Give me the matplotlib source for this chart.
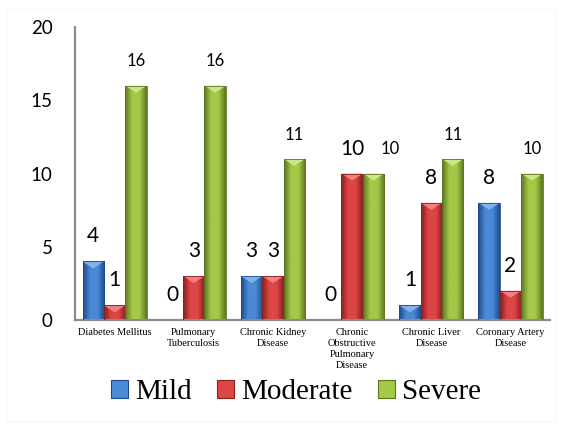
import numpy as np
import matplotlib
matplotlib.use('Agg')
import matplotlib.pyplot as plt
from matplotlib.colors import LinearSegmentedColormap
from matplotlib.patches import Rectangle, Polygon, Patch

categories = ['Diabetes Mellitus', 'Pulmonary\nTuberculosis', 'Chronic Kidney\nDisease',
              'Chronic\nObstructive\nPulmonary\nDisease', 'Chronic Liver\nDisease',
              'Coronary Artery\nDisease']
series = ['Mild', 'Moderate', 'Severe']
mild = [4, 0, 3, 0, 1, 8]
moderate = [1, 3, 3, 10, 8, 2]
severe = [16, 16, 11, 10, 11, 10]
yticks = [0, 5, 10, 15, 20]

# edge, centre, top-bevel colours per series
palette = {
    'Mild': ('#1d4b8a', '#4a8ad6', '#7fb2ec'),
    'Moderate': ('#8a1e1e', '#de4646', '#f28080'),
    'Severe': ('#5a7620', '#a4ca48', '#cde687'),
}

fig = plt.figure(figsize=(5.66, 4.3), dpi=100)
fig.patch.set_facecolor('white')
ax = fig.add_axes([0.1325, 0.2558, 0.8395, 0.6812])

width = 0.27
offsets = [-0.27, 0.0, 0.27]
x = np.arange(len(categories))
px_per_unit = 293 / 20.0  # vertical pixels per data unit
bevel = 7 / px_per_unit


def bevel_bar(ax, xc, h, colors):
    edge, mid, top = colors
    if h <= 0:
        return
    x0, x1 = xc - width / 2, xc + width / 2
    cmap = LinearSegmentedColormap.from_list('g', [edge, mid, mid, edge])
    grad = np.linspace(0, 1, 64).reshape(1, -1)
    im = ax.imshow(grad, cmap=cmap, extent=(x0, x1, 0, h), aspect='auto',
                   interpolation='bicubic', zorder=2)
    rect = Rectangle((x0, 0), width, h, transform=ax.transData)
    im.set_clip_path(rect)
    d = min(bevel, h)
    ax.add_patch(Polygon([(x0, h), (x1, h), (xc, h - d)], closed=True,
                         facecolor=top, edgecolor='none', zorder=3))
    ax.add_patch(Rectangle((x0, 0), width, h, fill=False, edgecolor=edge,
                           linewidth=0.6, zorder=4))


label_dx = {('Severe', 3): 12}

for si, (name, vals) in enumerate(zip(series, [mild, moderate, severe])):
    for ci, v in enumerate(vals):
        xc = x[ci] + offsets[si]
        bevel_bar(ax, xc, v, palette[name])
        big = name != 'Severe'
        ax.annotate(str(v), (xc, v), xytext=(label_dx.get((name, ci), 0), 18 if big else 17.5),
                    textcoords='offset points', ha='center', va='center',
                    fontsize=15 if big else 12, family='Lato', color='black', zorder=5)

ax.set_xlim(-0.5, len(categories) - 0.5)
ax.set_ylim(0, 20)
ax.set_yticks(yticks)
ax.set_yticklabels([str(t) for t in yticks], family='Lato', fontsize=13.5)
ax.tick_params(axis='y', length=0, pad=16)
ax.set_xticks(x)
ax.set_xticklabels(categories, family='Liberation Serif', fontsize=7.5, linespacing=1.25)
ax.tick_params(axis='x', length=0, pad=6)
for s in ['top', 'right']:
    ax.spines[s].set_visible(False)
for s in ['left', 'bottom']:
    ax.spines[s].set_color('#8c8c8c')
    ax.spines[s].set_linewidth(1.6)
ax.set_facecolor('none')

handles = [Patch(facecolor=palette[n][1], edgecolor=palette[n][0], linewidth=0.8) for n in series]
fig.legend(handles, series, loc='center', bbox_to_anchor=(0.523, 0.088), ncol=3,
           frameon=False, prop={'family': 'Liberation Serif', 'size': 21},
           handlelength=0.6, handleheight=0.6, handletextpad=0.25, columnspacing=0.85)

# faint outer frame
fig.add_artist(Rectangle((0.011, 0.02), 0.97, 0.958, transform=fig.transFigure,
                         fill=False, edgecolor='#f6f6f6', linewidth=0.8))

fig.savefig('out.png', dpi=100)
